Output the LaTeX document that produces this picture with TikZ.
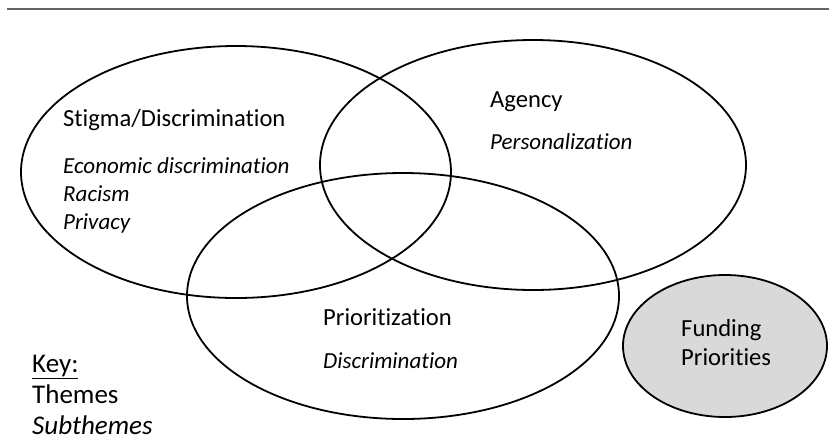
\documentclass[tikz,border=0pt]{standalone}
\usepackage{fontspec}
\setmainfont{Carlito}[Ligatures=NoCommon]
\tikzset{
  venn/.style={draw=black, line width=1.8pt},
  theme/.style={anchor=base west, inner sep=0pt, font=\fontsize{24.6}{28}\selectfont},
  subtheme/.style={anchor=base west, inner sep=0pt, font=\fontsize{23}{26}\selectfont\itshape},
  keytext/.style={anchor=base west, inner sep=0pt, font=\fontsize{27}{30}\selectfont},
}
\begin{document}
\begin{tikzpicture}[x=1pt,y=-1pt]
\useasboundingbox (0,0) rectangle (829,445);
\coordinate (ruleL) at (7,9);
\coordinate (ruleR) at (829,9);
\draw[line width=1.5pt, draw=black!60] (ruleL) -- (ruleR);
% ellipses
\draw[venn] (236,172) ellipse [x radius=215pt, y radius=126pt];
\draw[venn] (533,165) ellipse [x radius=213pt, y radius=125pt];
\draw[venn] (403,296) ellipse [x radius=216pt, y radius=123pt];
\draw[venn, fill=black!15] (725,346) ellipse [x radius=102pt, y radius=71pt];
% texts
\node[theme] (stigma) at (63,126) {Stigma/Discrimination};
\node[subtheme] (econ) at (63,173) {Economic discrimination};
\node[subtheme] (racism) at (63,201) {Racism};
\node[subtheme] (privacy) at (63,229) {Privacy};
\node[theme] (agency) at (490,107) {Agency};
\node[subtheme] (pers) at (490,149) {Personalization};
\node[theme] (prio) at (323,325) {Prioritization};
\node[subtheme] (discr) at (323,368) {Discrimination};
\node[theme] (fund) at (681,336) {Funding};
\node[theme] (fundprio) at (681,365) {Priorities};
\node[keytext] (key) at (32,372) {\underline{Key:}};
\node[keytext] (themes) at (32,403) {Themes};
\node[keytext, font=\fontsize{27}{30}\selectfont\itshape] (subthemes) at (32,434) {Subthemes};
\end{tikzpicture}
\end{document}
